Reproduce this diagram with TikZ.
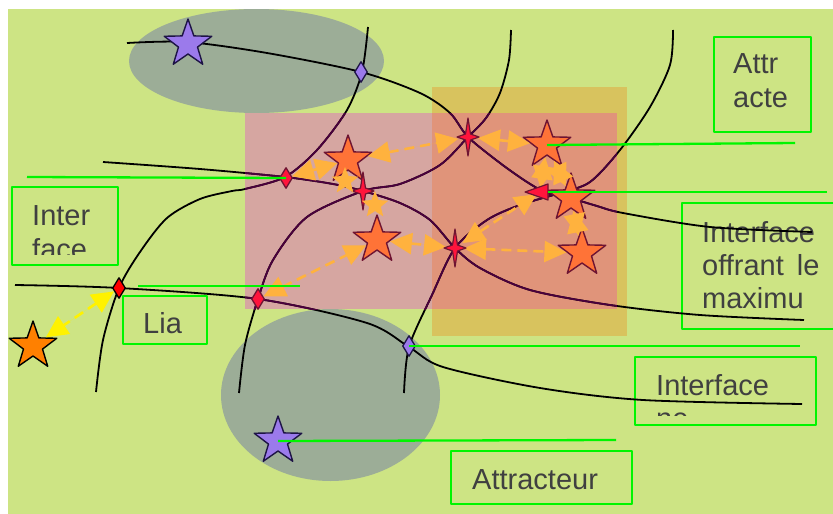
\documentclass[tikz,border=0pt]{standalone}
\usepackage{fontspec}
\setmainfont{Liberation Sans}
\usetikzlibrary{arrows.meta, shapes.geometric}
\definecolor{meadow}{RGB}{205,228,132}
\definecolor{basin}{RGB}{156,173,151}
\definecolor{rosebox}{RGB}{214,166,161}
\definecolor{goldbox}{RGB}{216,195,94}
\definecolor{mixbox}{RGB}{224,148,122}
\definecolor{flowin}{RGB}{75,0,60}
\definecolor{minred}{RGB}{255,115,55}
\definecolor{mindark}{RGB}{110,20,50}
\definecolor{lilac}{RGB}{155,122,235}
\definecolor{navy}{RGB}{30,20,70}
\definecolor{saddlered}{RGB}{255,20,60}
\definecolor{hopor}{RGB}{255,178,62}
\definecolor{leadgreen}{RGB}{0,245,0}
\definecolor{labelgray}{RGB}{64,64,64}
\newcommand{\flowlines}[1]{%
  \draw[#1] plot[smooth] coordinates {(127,43) (187,42) (267,53) (361,72) (420,93) (450,113) (468,137) (500,163) (527,182) (547,193) (570,198) (597,206) (623,213) (710,227) (812,232)};
  \draw[#1] plot[smooth] coordinates {(368,27) (362,72) (347,110) (317,150) (285,177) (245,189) (232,191) (200,199) (167,218) (140,252) (119,288) (103,340) (96,392)};
  \draw[#1] plot[smooth] coordinates {(103,162) (200,169) (285,177) (333,184) (363,191) (400,203) (430,220) (455,248) (480,268) (530,290) (610,305) (700,315) (804,320)};
  \draw[#1] plot[smooth] coordinates {(511,30) (509,60) (500,93) (486,118) (468,137) (440,165) (400,184) (363,191) (307,217) (273,260) (258,299) (245,345) (239,393)};
  \draw[#1] plot[smooth] coordinates {(15,285) (119,288) (258,299) (367,323) (409,347) (443,367) (540,388) (643,400) (802,404)};
  \draw[#1] plot[smooth] coordinates {(673,30) (670,65) (650,107) (620,150) (590,182) (560,193) (520,205) (487,220) (455,248) (432,295) (409,347) (404,393)};
}
\newcommand{\saddle}[1]{%
  \filldraw[saddlestar, shift={(#1)}] (0,-19) -- (2.5,-3) -- (11,0) -- (2.5,3) -- (0,19) -- (-2.5,3) -- (-11,0) -- (-2.5,-3) -- cycle;
}

\begin{document}
\begin{tikzpicture}[
  x=1pt, y=-1pt, line join=round,
  flow/.style={draw=black,line width=1.8pt},
  minstar/.style={star,star points=5,star point ratio=2.5,minimum size=50pt,inner sep=0pt,
    fill=minred,draw=mindark,line width=1.4pt},
  basinstar/.style={minstar,fill=lilac,draw=navy},
  farstar/.style={minstar,fill=orange,draw=black},
  hopstar/.style={star,star points=5,star point ratio=2.3,minimum size=28pt,inner sep=0pt,fill=hopor},
  dia/.style={diamond,minimum width=13pt,minimum height=21pt,inner sep=0pt,line width=1.3pt,
    fill=saddlered,draw=mindark},
  saddlestar/.style={fill=saddlered,draw=mindark,line width=1.2pt},
  twoway/.style={{Triangle[length=22pt,width=21pt]}-{Triangle[length=22pt,width=21pt]},
    draw=hopor,fill=hopor,line width=2.6pt,dash pattern=on 10pt off 6pt},
  lead/.style={draw=leadgreen,line width=2.3pt},
  gbox/.style={draw=leadgreen,line width=2.3pt,rectangle,inner sep=0pt},
  lbl/.style={font=\fontsize{29}{33}\selectfont,text=labelgray,inner sep=0pt,anchor=base west}
]
\useasboundingbox (0,0) rectangle (833,514);
\clip (0,0) rectangle (833,514);
\fill[white] (0,0) rectangle (833,514);
\fill[meadow] (8,9) rectangle (833,514);

% basins and regions
\fill[basin] (256.5,61) ellipse [x radius=127.5, y radius=52];
\fill[basin] (330.5,395) ellipse [x radius=109.5, y radius=86];
\fill[goldbox] (432,87) rectangle (627,336);
\fill[rosebox] (245,113) rectangle (432,309);
\fill[mixbox] (432,113) rectangle (617,309);

% label boxes
\node[gbox,minimum width=97pt,minimum height=95pt] (attrbox) at (762.5,84.5) {};
\node[gbox,minimum width=106pt,minimum height=78pt] (interbox) at (65,226) {};
\node[gbox,minimum width=160pt,minimum height=126pt] (maxbox) at (762,266) {};
\node[gbox,minimum width=181pt,minimum height=68pt] (nebox) at (725.5,391) {};
\node[gbox,minimum width=181pt,minimum height=53pt] (attrbox2) at (541.5,477.5) {};
\node[gbox,minimum width=84pt,minimum height=48pt] (liabox) at (165,320) {};
\node[lbl] (attr1) at (733,73) {Attr};
\node[lbl] (attr2) at (733,107) {acte};
\node[lbl] (inter1) at (32,225) {Inter};
\begin{scope}
  \clip (12,187) rectangle (118,254);
  \node[lbl] (inter2) at (32,259) {face};
\end{scope}
\node[lbl] (max1) at (702,242) {Interface};
\node[lbl] (max2) at (702,275) {offrant\hspace{5pt} le};
\node[lbl] (max3) at (702,308) {maximu};
\node[lbl] (ne1) at (656,395) {Interface};
\begin{scope}
  \clip (635,357) rectangle (816,415);
  \node[lbl] (ne2) at (656,428) {ne};
\end{scope}
\node[lbl] (attr3) at (472,489) {Attracteur};
\node[lbl] (lia) at (143,333) {Lia};

% separatrices
\flowlines{flow}
\begin{scope}
  \clip (245,113) rectangle (617,309);
  \flowlines{flow,draw=flowin}
\end{scope}

% minima and saddles
\node[basinstar] (top) at (188,44) {};
\node[basinstar] (bottom) at (278,441) {};
\node[farstar] (far) at (33,346) {};
\node[minstar] (m1) at (348,160) {};
\node[minstar] (m2) at (377,240) {};
\node[minstar] (m3) at (547,145) {};
\node[minstar] (m4) at (571,198) {};
\node[minstar] (m5) at (582,253) {};
\node[dia,fill=lilac,draw=navy] (d1) at (361,72) {};
\node[dia] (d2) at (286,178) {};
\node[dia] (d3) at (258,299) {};
\node[dia,fill=red,draw=black] (d4) at (119,288) {};
\node[dia,fill=lilac,draw=navy] (d5) at (409,346) {};
\coordinate (s1) at (468,137);
\coordinate (s2) at (363,191);
\coordinate (s3) at (455,248);
\coordinate (tri) at (540,192);

% hops
\draw[twoway] (d2) -- (m1);
\draw[twoway,shorten >=10pt] (m1) -- (s1);
\draw[twoway,shorten <=10pt] (s1) -- (m3);
\draw[twoway] (m3) -- (m4);
\draw[twoway,shorten >=4pt] (m3) -- (tri);
\draw[twoway,shorten >=9pt] (m2) -- (s3);
\draw[twoway,shorten <=9pt] (s3) -- (m5);
\draw[twoway,shorten <=9pt,shorten >=4pt] (s3) -- (tri);
\draw[twoway] (m4) -- (m5);
\draw[twoway] (d3) -- (m2);
\draw[twoway,draw=yellow,fill=yellow] (d4) -- (far);

\saddle{s1}
\saddle{s2}
\saddle{s3}
\filldraw[saddlestar,shift={(tri)}] (-15,0) -- (8,-8) -- (8,8) -- cycle;
\node[hopstar] (h1) at (345,181) {};
\node[hopstar] (h2) at (375,205) {};

% leader lines
\coordinate (e1) at (27,177);
\coordinate (e2) at (795,143);
\coordinate (e3) at (827,192);
\coordinate (e4a) at (138,286);
\coordinate (e4b) at (300,286);
\coordinate (e5) at (800,346);
\coordinate (e6) at (616,440);
\draw[lead] (e1) -- (d2.center);
\draw[lead] (m3.center) -- (e2);
\draw[lead] (tri) ++(8,0) -- (e3);
\draw[lead] (e4a) -- (e4b);
\draw[lead] (d5.center) -- (e5);
\draw[lead] (bottom.center) -- (e6);
\end{tikzpicture}
\end{document}
